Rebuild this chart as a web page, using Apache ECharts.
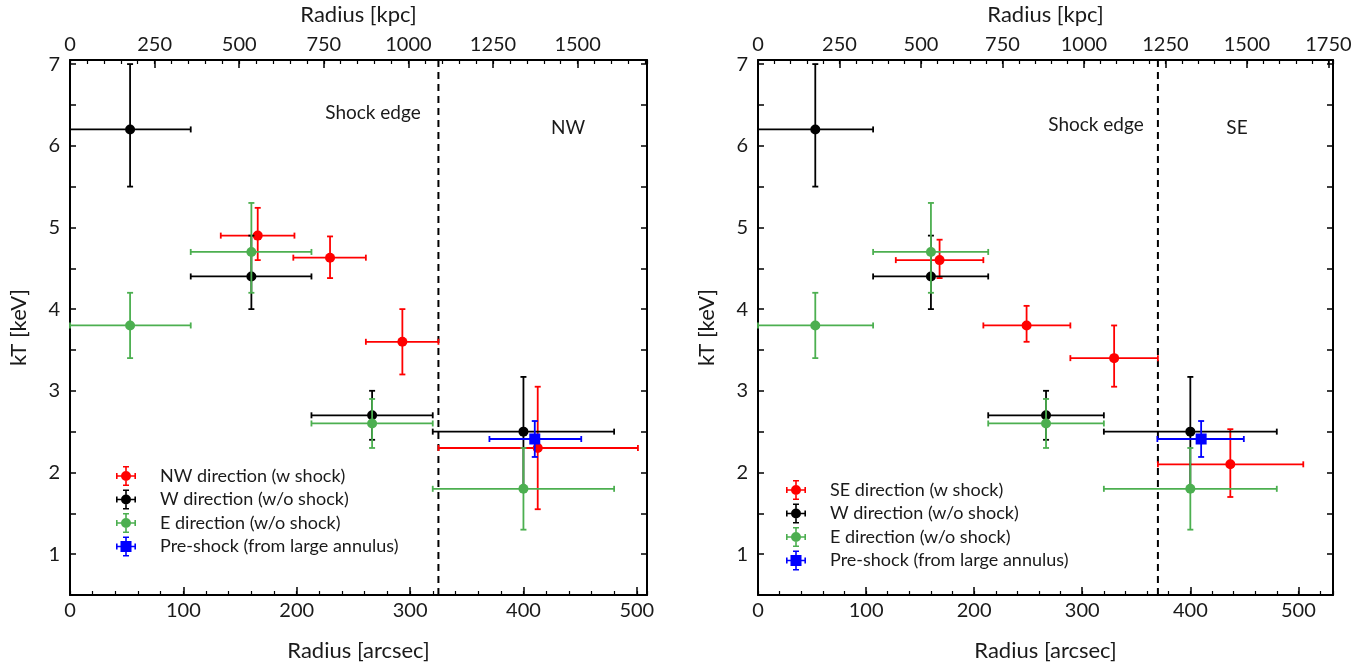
<!DOCTYPE html>
<html>
<head>
<meta charset="utf-8">
<script src="https://cdn.jsdelivr.net/npm/echarts@6/dist/echarts.min.js"></script>
<style>
html,body{margin:0;padding:0;background:#fff;}
#chart{width:1371px;height:672px;}
</style>
</head>
<body>
<div id="chart"></div>
<script>
// ---- data: [radius(arcsec), kT, rLow, rHigh, kTLow, kTHigh] ----
const nwShock = [
  [165.6, 4.90, 133, 198, 4.60, 5.24],
  [229.4, 4.63, 197, 261, 4.38, 4.89],
  [293.2, 3.60, 261, 325, 3.20, 4.00],
  [412.6, 2.30, 325, 501, 1.55, 3.05]
];
const seShock = [
  [168.0, 4.60, 127.5, 208.5, 4.38, 4.85],
  [248.5, 3.80, 208.5, 289, 3.60, 4.04],
  [329.5, 3.40, 289, 370, 3.05, 3.80],
  [437.0, 2.10, 370, 504.5, 1.70, 2.53]
];
const wNoShock = [
  [53, 6.2, 0, 106.5, 5.5, 7.0],
  [160, 4.4, 106.5, 213, 4.0, 4.9],
  [266.5, 2.7, 213, 320, 2.4, 3.0],
  [400, 2.5, 320, 480, 1.8, 3.17]
];
const eNoShock = [
  [53, 3.8, 0, 106.5, 3.4, 4.2],
  [160, 4.7, 106.5, 213, 4.2, 5.3],
  [266.5, 2.6, 213, 320, 2.3, 2.9],
  [400, 1.8, 320, 480, 1.3, 2.3]
];
const preShockNW = [[410, 2.41, 370, 451, 2.19, 2.63]];
const preShockSE = [[410, 2.41, 369.5, 449.5, 2.19, 2.63]];
const shockEdgeNW = [325];
const shockEdgeSE = [370];
const namesNW = ['NW direction (w shock)', 'W direction (w/o shock)', 'E direction (w/o shock)', 'Pre-shock (from large annulus)'];
const namesSE = ['SE direction (w shock)', 'W direction (w/o shock)', 'E direction (w/o shock)', 'Pre-shock (from large annulus)'];
const panelLabels = [['Shock edge', 'NW'], ['Shock edge', 'SE']];
const arcsecMax = [509, 532];
const kpcMax = [1705, 1764];

const RED = '#ff0000', BLACK = '#000000', GREEN = '#4caf50', BLUE = '#0000ff';
const FONT = 'Lato, "Open Sans", sans-serif';
const TXT = '#1a1a1a';

const iconCircle = 'path://M0,9.2h20v1.6h-20z M9.2,0h1.6v20h-1.6z M0,7h1.6v6h-1.6z M18.4,7h1.6v6h-1.6z M7,0h6v1.6h-6z M7,18.4h6v1.6h-6z M15,10A5,5 0 1 1 5,10A5,5 0 1 1 15,10z';
const iconSquare = 'path://M0,9.2h20v1.6h-20z M9.2,0h1.6v20h-1.6z M0,7h1.6v6h-1.6z M18.4,7h1.6v6h-1.6z M7,0h6v1.6h-6z M7,18.4h6v1.6h-6z M4.5,4.5h11v11h-11z';

function errRender(color, square) {
  return function (params, api) {
    const x = api.value(0), y = api.value(1);
    const c = api.coord([x, y]);
    const l = api.coord([api.value(2), y]);
    const r = api.coord([api.value(3), y]);
    const b = api.coord([x, api.value(4)]);
    const t = api.coord([x, api.value(5)]);
    const cap = 3;
    const st = { stroke: color, lineWidth: 1.8 };
    const children = [
      { type: 'line', shape: { x1: l[0], y1: c[1], x2: r[0], y2: c[1] }, style: st },
      { type: 'line', shape: { x1: l[0], y1: c[1] - cap, x2: l[0], y2: c[1] + cap }, style: st },
      { type: 'line', shape: { x1: r[0], y1: c[1] - cap, x2: r[0], y2: c[1] + cap }, style: st },
      { type: 'line', shape: { x1: c[0], y1: b[1], x2: c[0], y2: t[1] }, style: st },
      { type: 'line', shape: { x1: c[0] - cap, y1: b[1], x2: c[0] + cap, y2: b[1] }, style: st },
      { type: 'line', shape: { x1: c[0] - cap, y1: t[1], x2: c[0] + cap, y2: t[1] }, style: st }
    ];
    if (square) {
      children.push({ type: 'rect', shape: { x: c[0] - 5.5, y: c[1] - 5.5, width: 11, height: 11 }, style: { fill: color } });
    } else {
      children.push({ type: 'circle', shape: { cx: c[0], cy: c[1], r: 5 }, style: { fill: color } });
    }
    return { type: 'group', children: children };
  };
}

function shockRender(params, api) {
  const cs = params.coordSys;
  const p = api.coord([api.value(0), 1]);
  return {
    type: 'line',
    shape: { x1: p[0], y1: cs.y, x2: p[0], y2: cs.y + cs.height },
    style: { stroke: '#000', lineWidth: 2, lineDash: [7, 5] }
  };
}

const grids = [
  { left: 70, top: 60, width: 577, height: 535, containLabel: false, outerBoundsMode: 'none' },
  { left: 758, top: 60, width: 575, height: 535, containLabel: false, outerBoundsMode: 'none' }
];

const xAxes = [];
const yAxes = [];
for (let g = 0; g < 2; g++) {
  const base = {
    gridIndex: g, type: 'value', min: 0, splitLine: { show: false },
    axisLine: { show: true, onZero: false, lineStyle: { color: '#000', width: 2 } }
  };
  xAxes.push(Object.assign({}, base, {
    position: 'bottom', max: arcsecMax[g], interval: 100,
    axisTick: { inside: true, length: 8, lineStyle: { color: '#000', width: 1.5 } },
    axisLabel: { fontSize: 20, color: TXT, fontFamily: FONT, margin: 6, showMaxLabel: false,
      formatter: v => (v % 100 === 0 ? String(v) : '') },
    name: 'Radius [arcsec]', nameLocation: 'middle', nameGap: 45,
    nameTextStyle: { fontSize: 22, color: TXT, fontFamily: FONT }
  }));
  xAxes.push(Object.assign({}, base, {
    position: 'bottom', max: arcsecMax[g], interval: 20,
    axisLine: { show: false },
    axisTick: { inside: true, length: 4, lineStyle: { color: '#000', width: 1.2 } },
    axisLabel: { show: false }
  }));
  xAxes.push(Object.assign({}, base, {
    position: 'top', max: kpcMax[g], interval: 250,
    axisTick: { inside: true, length: 8, lineStyle: { color: '#000', width: 1.5 } },
    axisLabel: { fontSize: 20, color: TXT, fontFamily: FONT, margin: 5, showMaxLabel: g === 1,
      formatter: v => (v % 250 === 0 ? String(v) : '') },
    name: 'Radius [kpc]', nameLocation: 'middle', nameGap: 34,
    nameTextStyle: { fontSize: 22, color: TXT, fontFamily: FONT }
  }));
  xAxes.push(Object.assign({}, base, {
    position: 'top', max: kpcMax[g], interval: 50,
    axisLine: { show: false },
    axisTick: { inside: true, length: 4, lineStyle: { color: '#000', width: 1.2 } },
    axisLabel: { show: false }
  }));
  const ybase = {
    gridIndex: g, type: 'value', min: 0.5, max: 7.05, interval: 0.5, splitLine: { show: false },
    axisLine: { show: true, onZero: false, lineStyle: { color: '#000', width: 2 } },
    axisTick: { inside: true, length: 6, lineStyle: { color: '#000', width: 1.5 } }
  };
  yAxes.push(Object.assign({}, ybase, {
    position: 'left',
    axisLabel: { fontSize: 20, color: TXT, fontFamily: FONT, margin: 10,
      formatter: v => (Math.abs(v - Math.round(v)) < 1e-9 ? String(Math.round(v)) : '') },
    name: 'kT [keV]', nameLocation: 'middle', nameGap: 40, nameRotate: 90,
    nameTextStyle: { fontSize: 22, color: TXT, fontFamily: FONT }
  }));
  yAxes.push(Object.assign({}, ybase, { position: 'right', axisLabel: { show: false } }));
}

function errSeries(name, data, color, square, g) {
  return {
    type: 'custom', name: name, xAxisIndex: g * 4, yAxisIndex: g * 2,
    dimensions: ['r', 'kT', 'rLo', 'rHi', 'kTLo', 'kTHi'],
    encode: { x: 0, y: 1 },
    itemStyle: { color: color },
    renderItem: errRender(color, square),
    data: data, silent: true, z: 3
  };
}
function shockSeries(data, g) {
  return {
    type: 'custom', name: 'shock' + g, xAxisIndex: g * 4, yAxisIndex: g * 2,
    encode: { x: 0 }, renderItem: shockRender,
    data: data.map(v => [v]), silent: true, z: 2
  };
}

const series = [
  shockSeries(shockEdgeNW, 0),
  errSeries(namesNW[0], nwShock, RED, false, 0),
  errSeries(namesNW[1], wNoShock, BLACK, false, 0),
  errSeries(namesNW[2], eNoShock, GREEN, false, 0),
  errSeries(namesNW[3], preShockNW, BLUE, true, 0),
  shockSeries(shockEdgeSE, 1),
  errSeries(namesSE[0], seShock, RED, false, 1),
  errSeries(namesSE[1], wNoShock, BLACK, false, 1),
  errSeries(namesSE[2], eNoShock, GREEN, false, 1),
  errSeries(namesSE[3], preShockSE, BLUE, true, 1)
];

function legendFor(names, left, top) {
  return {
    orient: 'vertical', left: left, top: top, itemWidth: 20, itemHeight: 20, itemGap: 3.5,
    selectedMode: false, padding: 0,
    textStyle: { fontSize: 18, color: TXT, fontFamily: FONT, padding: [0, 0, 0, 19] },
    data: names.map((n, i) => ({ name: n, icon: i === 3 ? iconSquare : iconCircle }))
  };
}

const textStyle = { fill: TXT, font: '19px ' + FONT, textAlign: 'center', textVerticalAlign: 'middle' };
const option = {
  animation: false,
  backgroundColor: '#fff',
  grid: grids,
  xAxis: xAxes,
  yAxis: yAxes,
  legend: [legendFor(namesNW, 116, 466), legendFor(namesSE, 786, 480)],
  graphic: [
    { type: 'text', x: 373, y: 113, style: Object.assign({ text: panelLabels[0][0] }, textStyle) },
    { type: 'text', x: 568, y: 128, style: Object.assign({ text: panelLabels[0][1] }, textStyle) },
    { type: 'text', x: 1096, y: 125, style: Object.assign({ text: panelLabels[1][0] }, textStyle) },
    { type: 'text', x: 1237, y: 128, style: Object.assign({ text: panelLabels[1][1] }, textStyle) }
  ],
  series: series
};

const chart = echarts.init(document.getElementById('chart'), null, { renderer: 'canvas' });
chart.setOption(option);
</script>
</body>
</html>
